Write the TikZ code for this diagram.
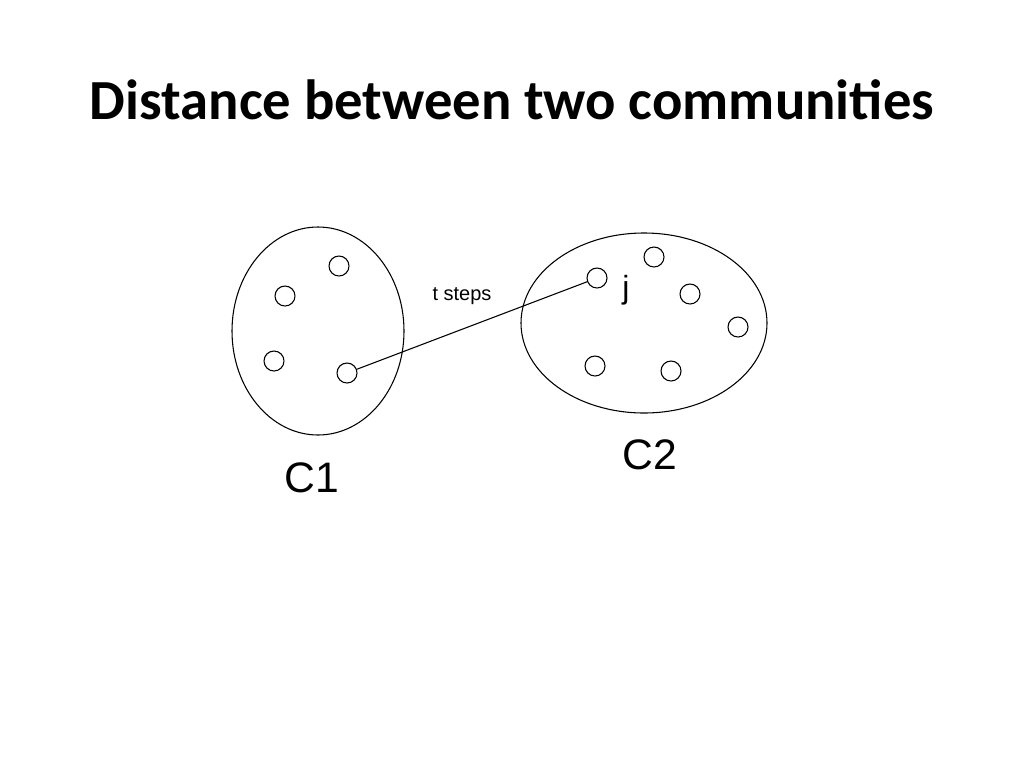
\documentclass[tikz,border=0pt]{standalone}
\usepackage{fontspec}
\usetikzlibrary{positioning}
\setmainfont{Liberation Sans}
\newfontfamily\titlefont{Carlito}
\tikzset{
  vertex/.style={circle,draw,thick,minimum size=15,inner sep=0pt},
  community/.style={draw,thick},
  clabel/.style={font=\fontsize{32}{32}\selectfont}
}
\begin{document}
\begin{tikzpicture}[x=0.75pt,y=-0.75pt]
\useasboundingbox (0,0) rectangle (1024,768);
\node (titel) at (512,100) {\titlefont\bfseries\fontsize{42.5}{45}\selectfont Distance between two communities};
% communities
\draw[community] (318,331) ellipse [x radius=86, y radius=104];
\draw[community] (644,323) ellipse [x radius=123, y radius=90];
% vertices of C1
\node[vertex] (a1) at (339,266) {};
\node[vertex] (a2) at (285,296) {};
\node[vertex] (a3) at (274,361) {};
\node[vertex] (i) at (347,373) {};
% vertices of C2
\node[vertex] (j) at (597,278) {};
\node[vertex] (b2) at (654,257) {};
\node[vertex] (b3) at (690,294) {};
\node[vertex] (b4) at (738,327) {};
\node[vertex] (b5) at (595,366) {};
\node[vertex] (b6) at (671,371) {};
\draw[thick] (i) -- (j);
\node (tsteps) at (462,296) {\fontsize{15}{15}\selectfont t steps};
\node (jlabel) at (626,290) {\fontsize{24}{24}\selectfont j};
\node[clabel] (c1) at (312,478) {C1};
\node[clabel] (c2) at (650,455) {C2};
\end{tikzpicture}
\end{document}
